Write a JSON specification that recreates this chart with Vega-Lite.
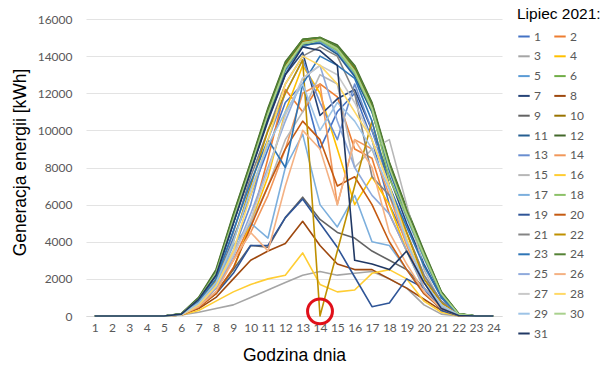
{
"$schema":"https://vega.github.io/schema/vega-lite/v6.json",
"width":416,"height":297,
"autosize":"none",
"padding":{"left":86,"top":19,"right":100,"bottom":49},
"background":"white",
"config":{"view":{"stroke":null},"font":"Liberation Sans"},
"datasets":{"gen":[
{"d":1,"h":1,"v":0},{"d":1,"h":2,"v":0},{"d":1,"h":3,"v":0},{"d":1,"h":4,"v":0},{"d":1,"h":5,"v":0},{"d":1,"h":6,"v":80},{"d":1,"h":7,"v":700},{"d":1,"h":8,"v":1900},{"d":1,"h":9,"v":4200},{"d":1,"h":10,"v":6500},{"d":1,"h":11,"v":9000},{"d":1,"h":12,"v":11500},{"d":1,"h":13,"v":12500},{"d":1,"h":14,"v":9000},{"d":1,"h":15,"v":11000},{"d":1,"h":16,"v":12000},{"d":1,"h":17,"v":9500},{"d":1,"h":18,"v":6000},{"d":1,"h":19,"v":4000},{"d":1,"h":20,"v":2000},{"d":1,"h":21,"v":800},{"d":1,"h":22,"v":80},{"d":1,"h":23,"v":0},{"d":1,"h":24,"v":0},
{"d":2,"h":1,"v":0},{"d":2,"h":2,"v":0},{"d":2,"h":3,"v":0},{"d":2,"h":4,"v":0},{"d":2,"h":5,"v":0},{"d":2,"h":6,"v":60},{"d":2,"h":7,"v":600},{"d":2,"h":8,"v":1500},{"d":2,"h":9,"v":3000},{"d":2,"h":10,"v":5000},{"d":2,"h":11,"v":8500},{"d":2,"h":12,"v":12200},{"d":2,"h":13,"v":11000},{"d":2,"h":14,"v":12500},{"d":2,"h":15,"v":11800},{"d":2,"h":16,"v":9000},{"d":2,"h":17,"v":8500},{"d":2,"h":18,"v":5500},{"d":2,"h":19,"v":3500},{"d":2,"h":20,"v":1800},{"d":2,"h":21,"v":600},{"d":2,"h":22,"v":50},{"d":2,"h":23,"v":0},{"d":2,"h":24,"v":0},
{"d":3,"h":1,"v":0},{"d":3,"h":2,"v":0},{"d":3,"h":3,"v":0},{"d":3,"h":4,"v":0},{"d":3,"h":5,"v":0},{"d":3,"h":6,"v":50},{"d":3,"h":7,"v":200},{"d":3,"h":8,"v":400},{"d":3,"h":9,"v":600},{"d":3,"h":10,"v":1000},{"d":3,"h":11,"v":1400},{"d":3,"h":12,"v":1800},{"d":3,"h":13,"v":2200},{"d":3,"h":14,"v":2400},{"d":3,"h":15,"v":2200},{"d":3,"h":16,"v":2300},{"d":3,"h":17,"v":2400},{"d":3,"h":18,"v":2000},{"d":3,"h":19,"v":1500},{"d":3,"h":20,"v":600},{"d":3,"h":21,"v":100},{"d":3,"h":22,"v":0},{"d":3,"h":23,"v":0},{"d":3,"h":24,"v":0},
{"d":4,"h":1,"v":0},{"d":4,"h":2,"v":0},{"d":4,"h":3,"v":0},{"d":4,"h":4,"v":0},{"d":4,"h":5,"v":0},{"d":4,"h":6,"v":60},{"d":4,"h":7,"v":500},{"d":4,"h":8,"v":1200},{"d":4,"h":9,"v":2500},{"d":4,"h":10,"v":5000},{"d":4,"h":11,"v":7500},{"d":4,"h":12,"v":11000},{"d":4,"h":13,"v":13500},{"d":4,"h":14,"v":12000},{"d":4,"h":15,"v":9000},{"d":4,"h":16,"v":6000},{"d":4,"h":17,"v":7500},{"d":4,"h":18,"v":6000},{"d":4,"h":19,"v":3500},{"d":4,"h":20,"v":1500},{"d":4,"h":21,"v":500},{"d":4,"h":22,"v":50},{"d":4,"h":23,"v":0},{"d":4,"h":24,"v":0},
{"d":5,"h":1,"v":0},{"d":5,"h":2,"v":0},{"d":5,"h":3,"v":0},{"d":5,"h":4,"v":0},{"d":5,"h":5,"v":0},{"d":5,"h":6,"v":90},{"d":5,"h":7,"v":850},{"d":5,"h":8,"v":2200},{"d":5,"h":9,"v":5000},{"d":5,"h":10,"v":7800},{"d":5,"h":11,"v":10700},{"d":5,"h":12,"v":13200},{"d":5,"h":13,"v":14500},{"d":5,"h":14,"v":14800},{"d":5,"h":15,"v":14200},{"d":5,"h":16,"v":13000},{"d":5,"h":17,"v":11000},{"d":5,"h":18,"v":7800},{"d":5,"h":19,"v":5300},{"d":5,"h":20,"v":3100},{"d":5,"h":21,"v":1100},{"d":5,"h":22,"v":100},{"d":5,"h":23,"v":0},{"d":5,"h":24,"v":0},
{"d":6,"h":1,"v":0},{"d":6,"h":2,"v":0},{"d":6,"h":3,"v":0},{"d":6,"h":4,"v":0},{"d":6,"h":5,"v":0},{"d":6,"h":6,"v":120},{"d":6,"h":7,"v":950},{"d":6,"h":8,"v":2400},{"d":6,"h":9,"v":5400},{"d":6,"h":10,"v":8200},{"d":6,"h":11,"v":11100},{"d":6,"h":12,"v":13600},{"d":6,"h":13,"v":14900},{"d":6,"h":14,"v":15000},{"d":6,"h":15,"v":14500},{"d":6,"h":16,"v":13400},{"d":6,"h":17,"v":11400},{"d":6,"h":18,"v":8200},{"d":6,"h":19,"v":5700},{"d":6,"h":20,"v":3400},{"d":6,"h":21,"v":1300},{"d":6,"h":22,"v":120},{"d":6,"h":23,"v":0},{"d":6,"h":24,"v":0},
{"d":7,"h":1,"v":0},{"d":7,"h":2,"v":0},{"d":7,"h":3,"v":0},{"d":7,"h":4,"v":0},{"d":7,"h":5,"v":0},{"d":7,"h":6,"v":100},{"d":7,"h":7,"v":900},{"d":7,"h":8,"v":2200},{"d":7,"h":9,"v":5000},{"d":7,"h":10,"v":7800},{"d":7,"h":11,"v":10500},{"d":7,"h":12,"v":13000},{"d":7,"h":13,"v":14200},{"d":7,"h":14,"v":10800},{"d":7,"h":15,"v":11700},{"d":7,"h":16,"v":12200},{"d":7,"h":17,"v":10000},{"d":7,"h":18,"v":7500},{"d":7,"h":19,"v":5000},{"d":7,"h":20,"v":2800},{"d":7,"h":21,"v":1000},{"d":7,"h":22,"v":100},{"d":7,"h":23,"v":0},{"d":7,"h":24,"v":0},
{"d":8,"h":1,"v":0},{"d":8,"h":2,"v":0},{"d":8,"h":3,"v":0},{"d":8,"h":4,"v":0},{"d":8,"h":5,"v":0},{"d":8,"h":6,"v":50},{"d":8,"h":7,"v":400},{"d":8,"h":8,"v":1000},{"d":8,"h":9,"v":2000},{"d":8,"h":10,"v":3000},{"d":8,"h":11,"v":3500},{"d":8,"h":12,"v":3900},{"d":8,"h":13,"v":5100},{"d":8,"h":14,"v":3800},{"d":8,"h":15,"v":2800},{"d":8,"h":16,"v":2500},{"d":8,"h":17,"v":2500},{"d":8,"h":18,"v":2000},{"d":8,"h":19,"v":1500},{"d":8,"h":20,"v":900},{"d":8,"h":21,"v":300},{"d":8,"h":22,"v":30},{"d":8,"h":23,"v":0},{"d":8,"h":24,"v":0},
{"d":9,"h":1,"v":0},{"d":9,"h":2,"v":0},{"d":9,"h":3,"v":0},{"d":9,"h":4,"v":0},{"d":9,"h":5,"v":0},{"d":9,"h":6,"v":60},{"d":9,"h":7,"v":500},{"d":9,"h":8,"v":1300},{"d":9,"h":9,"v":2500},{"d":9,"h":10,"v":3800},{"d":9,"h":11,"v":3700},{"d":9,"h":12,"v":5300},{"d":9,"h":13,"v":6400},{"d":9,"h":14,"v":5200},{"d":9,"h":15,"v":4500},{"d":9,"h":16,"v":4200},{"d":9,"h":17,"v":3500},{"d":9,"h":18,"v":3000},{"d":9,"h":19,"v":2500},{"d":9,"h":20,"v":1500},{"d":9,"h":21,"v":500},{"d":9,"h":22,"v":50},{"d":9,"h":23,"v":0},{"d":9,"h":24,"v":0},
{"d":10,"h":1,"v":0},{"d":10,"h":2,"v":0},{"d":10,"h":3,"v":0},{"d":10,"h":4,"v":0},{"d":10,"h":5,"v":0},{"d":10,"h":6,"v":110},{"d":10,"h":7,"v":920},{"d":10,"h":8,"v":2350},{"d":10,"h":9,"v":5300},{"d":10,"h":10,"v":8100},{"d":10,"h":11,"v":11000},{"d":10,"h":12,"v":13500},{"d":10,"h":13,"v":14800},{"d":10,"h":14,"v":14900},{"d":10,"h":15,"v":14400},{"d":10,"h":16,"v":13300},{"d":10,"h":17,"v":11300},{"d":10,"h":18,"v":8100},{"d":10,"h":19,"v":5600},{"d":10,"h":20,"v":3300},{"d":10,"h":21,"v":1200},{"d":10,"h":22,"v":110},{"d":10,"h":23,"v":0},{"d":10,"h":24,"v":0},
{"d":11,"h":1,"v":0},{"d":11,"h":2,"v":0},{"d":11,"h":3,"v":0},{"d":11,"h":4,"v":0},{"d":11,"h":5,"v":0},{"d":11,"h":6,"v":100},{"d":11,"h":7,"v":900},{"d":11,"h":8,"v":2300},{"d":11,"h":9,"v":5100},{"d":11,"h":10,"v":7900},{"d":11,"h":11,"v":10800},{"d":11,"h":12,"v":13300},{"d":11,"h":13,"v":14600},{"d":11,"h":14,"v":14700},{"d":11,"h":15,"v":14100},{"d":11,"h":16,"v":12900},{"d":11,"h":17,"v":11000},{"d":11,"h":18,"v":7900},{"d":11,"h":19,"v":5400},{"d":11,"h":20,"v":3200},{"d":11,"h":21,"v":1150},{"d":11,"h":22,"v":100},{"d":11,"h":23,"v":0},{"d":11,"h":24,"v":0},
{"d":12,"h":1,"v":0},{"d":12,"h":2,"v":0},{"d":12,"h":3,"v":0},{"d":12,"h":4,"v":0},{"d":12,"h":5,"v":0},{"d":12,"h":6,"v":130},{"d":12,"h":7,"v":1000},{"d":12,"h":8,"v":2500},{"d":12,"h":9,"v":5500},{"d":12,"h":10,"v":8300},{"d":12,"h":11,"v":11200},{"d":12,"h":12,"v":13700},{"d":12,"h":13,"v":14900},{"d":12,"h":14,"v":15000},{"d":12,"h":15,"v":14600},{"d":12,"h":16,"v":13500},{"d":12,"h":17,"v":11500},{"d":12,"h":18,"v":8300},{"d":12,"h":19,"v":5800},{"d":12,"h":20,"v":3500},{"d":12,"h":21,"v":1300},{"d":12,"h":22,"v":130},{"d":12,"h":23,"v":0},{"d":12,"h":24,"v":0},
{"d":13,"h":1,"v":0},{"d":13,"h":2,"v":0},{"d":13,"h":3,"v":0},{"d":13,"h":4,"v":0},{"d":13,"h":5,"v":0},{"d":13,"h":6,"v":70},{"d":13,"h":7,"v":700},{"d":13,"h":8,"v":1800},{"d":13,"h":9,"v":3500},{"d":13,"h":10,"v":6000},{"d":13,"h":11,"v":9500},{"d":13,"h":12,"v":12000},{"d":13,"h":13,"v":13800},{"d":13,"h":14,"v":11500},{"d":13,"h":15,"v":9500},{"d":13,"h":16,"v":12500},{"d":13,"h":17,"v":10000},{"d":13,"h":18,"v":7000},{"d":13,"h":19,"v":4500},{"d":13,"h":20,"v":2200},{"d":13,"h":21,"v":800},{"d":13,"h":22,"v":60},{"d":13,"h":23,"v":0},{"d":13,"h":24,"v":0},
{"d":14,"h":1,"v":0},{"d":14,"h":2,"v":0},{"d":14,"h":3,"v":0},{"d":14,"h":4,"v":0},{"d":14,"h":5,"v":0},{"d":14,"h":6,"v":50},{"d":14,"h":7,"v":500},{"d":14,"h":8,"v":1500},{"d":14,"h":9,"v":3000},{"d":14,"h":10,"v":4500},{"d":14,"h":11,"v":6500},{"d":14,"h":12,"v":9000},{"d":14,"h":13,"v":12000},{"d":14,"h":14,"v":12500},{"d":14,"h":15,"v":6000},{"d":14,"h":16,"v":9500},{"d":14,"h":17,"v":9000},{"d":14,"h":18,"v":6500},{"d":14,"h":19,"v":3800},{"d":14,"h":20,"v":1500},{"d":14,"h":21,"v":500},{"d":14,"h":22,"v":40},{"d":14,"h":23,"v":0},{"d":14,"h":24,"v":0},
{"d":15,"h":1,"v":0},{"d":15,"h":2,"v":0},{"d":15,"h":3,"v":0},{"d":15,"h":4,"v":0},{"d":15,"h":5,"v":0},{"d":15,"h":6,"v":60},{"d":15,"h":7,"v":600},{"d":15,"h":8,"v":1600},{"d":15,"h":9,"v":3500},{"d":15,"h":10,"v":5000},{"d":15,"h":11,"v":7000},{"d":15,"h":12,"v":9500},{"d":15,"h":13,"v":11000},{"d":15,"h":14,"v":13000},{"d":15,"h":15,"v":12500},{"d":15,"h":16,"v":8000},{"d":15,"h":17,"v":9000},{"d":15,"h":18,"v":9500},{"d":15,"h":19,"v":6000},{"d":15,"h":20,"v":2500},{"d":15,"h":21,"v":700},{"d":15,"h":22,"v":50},{"d":15,"h":23,"v":0},{"d":15,"h":24,"v":0},
{"d":16,"h":1,"v":0},{"d":16,"h":2,"v":0},{"d":16,"h":3,"v":0},{"d":16,"h":4,"v":0},{"d":16,"h":5,"v":0},{"d":16,"h":6,"v":50},{"d":16,"h":7,"v":300},{"d":16,"h":8,"v":800},{"d":16,"h":9,"v":1300},{"d":16,"h":10,"v":1700},{"d":16,"h":11,"v":2000},{"d":16,"h":12,"v":2200},{"d":16,"h":13,"v":3400},{"d":16,"h":14,"v":1700},{"d":16,"h":15,"v":1300},{"d":16,"h":16,"v":1400},{"d":16,"h":17,"v":2300},{"d":16,"h":18,"v":2500},{"d":16,"h":19,"v":2000},{"d":16,"h":20,"v":800},{"d":16,"h":21,"v":200},{"d":16,"h":22,"v":0},{"d":16,"h":23,"v":0},{"d":16,"h":24,"v":0},
{"d":17,"h":1,"v":0},{"d":17,"h":2,"v":0},{"d":17,"h":3,"v":0},{"d":17,"h":4,"v":0},{"d":17,"h":5,"v":0},{"d":17,"h":6,"v":70},{"d":17,"h":7,"v":700},{"d":17,"h":8,"v":1700},{"d":17,"h":9,"v":3800},{"d":17,"h":10,"v":5000},{"d":17,"h":11,"v":4200},{"d":17,"h":12,"v":8000},{"d":17,"h":13,"v":9800},{"d":17,"h":14,"v":6000},{"d":17,"h":15,"v":4800},{"d":17,"h":16,"v":6500},{"d":17,"h":17,"v":4000},{"d":17,"h":18,"v":3800},{"d":17,"h":19,"v":2500},{"d":17,"h":20,"v":1200},{"d":17,"h":21,"v":400},{"d":17,"h":22,"v":30},{"d":17,"h":23,"v":0},{"d":17,"h":24,"v":0},
{"d":18,"h":1,"v":0},{"d":18,"h":2,"v":0},{"d":18,"h":3,"v":0},{"d":18,"h":4,"v":0},{"d":18,"h":5,"v":0},{"d":18,"h":6,"v":100},{"d":18,"h":7,"v":880},{"d":18,"h":8,"v":2250},{"d":18,"h":9,"v":5150},{"d":18,"h":10,"v":7950},{"d":18,"h":11,"v":10850},{"d":18,"h":12,"v":13350},{"d":18,"h":13,"v":14650},{"d":18,"h":14,"v":14850},{"d":18,"h":15,"v":14300},{"d":18,"h":16,"v":13100},{"d":18,"h":17,"v":11100},{"d":18,"h":18,"v":7400},{"d":18,"h":19,"v":5400},{"d":18,"h":20,"v":3200},{"d":18,"h":21,"v":1200},{"d":18,"h":22,"v":100},{"d":18,"h":23,"v":0},{"d":18,"h":24,"v":0},
{"d":19,"h":1,"v":0},{"d":19,"h":2,"v":0},{"d":19,"h":3,"v":0},{"d":19,"h":4,"v":0},{"d":19,"h":5,"v":0},{"d":19,"h":6,"v":60},{"d":19,"h":7,"v":500},{"d":19,"h":8,"v":1200},{"d":19,"h":9,"v":2300},{"d":19,"h":10,"v":3800},{"d":19,"h":11,"v":3800},{"d":19,"h":12,"v":5300},{"d":19,"h":13,"v":6300},{"d":19,"h":14,"v":5000},{"d":19,"h":15,"v":3700},{"d":19,"h":16,"v":2100},{"d":19,"h":17,"v":500},{"d":19,"h":18,"v":700},{"d":19,"h":19,"v":2000},{"d":19,"h":20,"v":1500},{"d":19,"h":21,"v":300},{"d":19,"h":22,"v":20},{"d":19,"h":23,"v":0},{"d":19,"h":24,"v":0},
{"d":20,"h":1,"v":0},{"d":20,"h":2,"v":0},{"d":20,"h":3,"v":0},{"d":20,"h":4,"v":0},{"d":20,"h":5,"v":0},{"d":20,"h":6,"v":50},{"d":20,"h":7,"v":450},{"d":20,"h":8,"v":1200},{"d":20,"h":9,"v":2600},{"d":20,"h":10,"v":4800},{"d":20,"h":11,"v":7000},{"d":20,"h":12,"v":9000},{"d":20,"h":13,"v":10500},{"d":20,"h":14,"v":9500},{"d":20,"h":15,"v":7000},{"d":20,"h":16,"v":7500},{"d":20,"h":17,"v":6000},{"d":20,"h":18,"v":4000},{"d":20,"h":19,"v":2500},{"d":20,"h":20,"v":1200},{"d":20,"h":21,"v":400},{"d":20,"h":22,"v":30},{"d":20,"h":23,"v":0},{"d":20,"h":24,"v":0},
{"d":21,"h":1,"v":0},{"d":21,"h":2,"v":0},{"d":21,"h":3,"v":0},{"d":21,"h":4,"v":0},{"d":21,"h":5,"v":0},{"d":21,"h":6,"v":80},{"d":21,"h":7,"v":800},{"d":21,"h":8,"v":2000},{"d":21,"h":9,"v":4500},{"d":21,"h":10,"v":7500},{"d":21,"h":11,"v":10000},{"d":21,"h":12,"v":12500},{"d":21,"h":13,"v":14000},{"d":21,"h":14,"v":14500},{"d":21,"h":15,"v":14000},{"d":21,"h":16,"v":12000},{"d":21,"h":17,"v":7500},{"d":21,"h":18,"v":6500},{"d":21,"h":19,"v":4500},{"d":21,"h":20,"v":2200},{"d":21,"h":21,"v":800},{"d":21,"h":22,"v":60},{"d":21,"h":23,"v":0},{"d":21,"h":24,"v":0},
{"d":22,"h":1,"v":0},{"d":22,"h":2,"v":0},{"d":22,"h":3,"v":0},{"d":22,"h":4,"v":0},{"d":22,"h":5,"v":0},{"d":22,"h":6,"v":70},{"d":22,"h":7,"v":700},{"d":22,"h":8,"v":1900},{"d":22,"h":9,"v":4000},{"d":22,"h":10,"v":7000},{"d":22,"h":11,"v":10000},{"d":22,"h":12,"v":12000},{"d":22,"h":13,"v":13800},{"d":22,"h":14,"v":0},{"d":22,"h":15,"v":3500},{"d":22,"h":16,"v":7000},{"d":22,"h":17,"v":10500},{"d":22,"h":18,"v":7000},{"d":22,"h":19,"v":4500},{"d":22,"h":20,"v":2000},{"d":22,"h":21,"v":700},{"d":22,"h":22,"v":50},{"d":22,"h":23,"v":0},{"d":22,"h":24,"v":0},
{"d":23,"h":1,"v":0},{"d":23,"h":2,"v":0},{"d":23,"h":3,"v":0},{"d":23,"h":4,"v":0},{"d":23,"h":5,"v":0},{"d":23,"h":6,"v":90},{"d":23,"h":7,"v":800},{"d":23,"h":8,"v":2000},{"d":23,"h":9,"v":4600},{"d":23,"h":10,"v":7200},{"d":23,"h":11,"v":9500},{"d":23,"h":12,"v":8000},{"d":23,"h":13,"v":12500},{"d":23,"h":14,"v":14000},{"d":23,"h":15,"v":13500},{"d":23,"h":16,"v":12800},{"d":23,"h":17,"v":10500},{"d":23,"h":18,"v":7000},{"d":23,"h":19,"v":4800},{"d":23,"h":20,"v":2700},{"d":23,"h":21,"v":1000},{"d":23,"h":22,"v":80},{"d":23,"h":23,"v":0},{"d":23,"h":24,"v":0},
{"d":24,"h":1,"v":0},{"d":24,"h":2,"v":0},{"d":24,"h":3,"v":0},{"d":24,"h":4,"v":0},{"d":24,"h":5,"v":0},{"d":24,"h":6,"v":120},{"d":24,"h":7,"v":960},{"d":24,"h":8,"v":2420},{"d":24,"h":9,"v":5420},{"d":24,"h":10,"v":8220},{"d":24,"h":11,"v":11120},{"d":24,"h":12,"v":13620},{"d":24,"h":13,"v":14880},{"d":24,"h":14,"v":15000},{"d":24,"h":15,"v":14520},{"d":24,"h":16,"v":13420},{"d":24,"h":17,"v":11420},{"d":24,"h":18,"v":8220},{"d":24,"h":19,"v":5720},{"d":24,"h":20,"v":3420},{"d":24,"h":21,"v":1280},{"d":24,"h":22,"v":120},{"d":24,"h":23,"v":0},{"d":24,"h":24,"v":0},
{"d":25,"h":1,"v":0},{"d":25,"h":2,"v":0},{"d":25,"h":3,"v":0},{"d":25,"h":4,"v":0},{"d":25,"h":5,"v":0},{"d":25,"h":6,"v":60},{"d":25,"h":7,"v":600},{"d":25,"h":8,"v":1500},{"d":25,"h":9,"v":3200},{"d":25,"h":10,"v":5500},{"d":25,"h":11,"v":8000},{"d":25,"h":12,"v":10500},{"d":25,"h":13,"v":12800},{"d":25,"h":14,"v":13500},{"d":25,"h":15,"v":10500},{"d":25,"h":16,"v":8000},{"d":25,"h":17,"v":6500},{"d":25,"h":18,"v":5500},{"d":25,"h":19,"v":3500},{"d":25,"h":20,"v":1500},{"d":25,"h":21,"v":500},{"d":25,"h":22,"v":40},{"d":25,"h":23,"v":0},{"d":25,"h":24,"v":0},
{"d":26,"h":1,"v":0},{"d":26,"h":2,"v":0},{"d":26,"h":3,"v":0},{"d":26,"h":4,"v":0},{"d":26,"h":5,"v":0},{"d":26,"h":6,"v":50},{"d":26,"h":7,"v":500},{"d":26,"h":8,"v":1300},{"d":26,"h":9,"v":3000},{"d":26,"h":10,"v":4500},{"d":26,"h":11,"v":3500},{"d":26,"h":12,"v":7000},{"d":26,"h":13,"v":10000},{"d":26,"h":14,"v":9000},{"d":26,"h":15,"v":6000},{"d":26,"h":16,"v":9500},{"d":26,"h":17,"v":8000},{"d":26,"h":18,"v":4500},{"d":26,"h":19,"v":2800},{"d":26,"h":20,"v":1300},{"d":26,"h":21,"v":400},{"d":26,"h":22,"v":30},{"d":26,"h":23,"v":0},{"d":26,"h":24,"v":0},
{"d":27,"h":1,"v":0},{"d":27,"h":2,"v":0},{"d":27,"h":3,"v":0},{"d":27,"h":4,"v":0},{"d":27,"h":5,"v":0},{"d":27,"h":6,"v":60},{"d":27,"h":7,"v":600},{"d":27,"h":8,"v":1600},{"d":27,"h":9,"v":3300},{"d":27,"h":10,"v":5200},{"d":27,"h":11,"v":7800},{"d":27,"h":12,"v":10800},{"d":27,"h":13,"v":12800},{"d":27,"h":14,"v":13500},{"d":27,"h":15,"v":13000},{"d":27,"h":16,"v":11500},{"d":27,"h":17,"v":9500},{"d":27,"h":18,"v":7000},{"d":27,"h":19,"v":4000},{"d":27,"h":20,"v":1800},{"d":27,"h":21,"v":600},{"d":27,"h":22,"v":50},{"d":27,"h":23,"v":0},{"d":27,"h":24,"v":0},
{"d":28,"h":1,"v":0},{"d":28,"h":2,"v":0},{"d":28,"h":3,"v":0},{"d":28,"h":4,"v":0},{"d":28,"h":5,"v":0},{"d":28,"h":6,"v":60},{"d":28,"h":7,"v":600},{"d":28,"h":8,"v":1600},{"d":28,"h":9,"v":3500},{"d":28,"h":10,"v":6500},{"d":28,"h":11,"v":9500},{"d":28,"h":12,"v":12500},{"d":28,"h":13,"v":14000},{"d":28,"h":14,"v":13500},{"d":28,"h":15,"v":12500},{"d":28,"h":16,"v":11000},{"d":28,"h":17,"v":9500},{"d":28,"h":18,"v":7000},{"d":28,"h":19,"v":4200},{"d":28,"h":20,"v":1800},{"d":28,"h":21,"v":600},{"d":28,"h":22,"v":50},{"d":28,"h":23,"v":0},{"d":28,"h":24,"v":0},
{"d":29,"h":1,"v":0},{"d":29,"h":2,"v":0},{"d":29,"h":3,"v":0},{"d":29,"h":4,"v":0},{"d":29,"h":5,"v":0},{"d":29,"h":6,"v":70},{"d":29,"h":7,"v":700},{"d":29,"h":8,"v":1800},{"d":29,"h":9,"v":4000},{"d":29,"h":10,"v":6800},{"d":29,"h":11,"v":9200},{"d":29,"h":12,"v":11000},{"d":29,"h":13,"v":12500},{"d":29,"h":14,"v":10000},{"d":29,"h":15,"v":11500},{"d":29,"h":16,"v":10500},{"d":29,"h":17,"v":9000},{"d":29,"h":18,"v":6800},{"d":29,"h":19,"v":4000},{"d":29,"h":20,"v":1800},{"d":29,"h":21,"v":600},{"d":29,"h":22,"v":50},{"d":29,"h":23,"v":0},{"d":29,"h":24,"v":0},
{"d":30,"h":1,"v":0},{"d":30,"h":2,"v":0},{"d":30,"h":3,"v":0},{"d":30,"h":4,"v":0},{"d":30,"h":5,"v":0},{"d":30,"h":6,"v":110},{"d":30,"h":7,"v":900},{"d":30,"h":8,"v":2300},{"d":30,"h":9,"v":5200},{"d":30,"h":10,"v":8000},{"d":30,"h":11,"v":10900},{"d":30,"h":12,"v":13400},{"d":30,"h":13,"v":14700},{"d":30,"h":14,"v":14900},{"d":30,"h":15,"v":14400},{"d":30,"h":16,"v":13200},{"d":30,"h":17,"v":11200},{"d":30,"h":18,"v":8000},{"d":30,"h":19,"v":5500},{"d":30,"h":20,"v":3300},{"d":30,"h":21,"v":1200},{"d":30,"h":22,"v":100},{"d":30,"h":23,"v":0},{"d":30,"h":24,"v":0},
{"d":31,"h":1,"v":0},{"d":31,"h":2,"v":0},{"d":31,"h":3,"v":0},{"d":31,"h":4,"v":0},{"d":31,"h":5,"v":0},{"d":31,"h":6,"v":100},{"d":31,"h":7,"v":900},{"d":31,"h":8,"v":2200},{"d":31,"h":9,"v":5000},{"d":31,"h":10,"v":7800},{"d":31,"h":11,"v":10600},{"d":31,"h":12,"v":13000},{"d":31,"h":13,"v":14500},{"d":31,"h":14,"v":14300},{"d":31,"h":15,"v":13500},{"d":31,"h":16,"v":3000},{"d":31,"h":17,"v":2800},{"d":31,"h":18,"v":2500},{"d":31,"h":19,"v":3500},{"d":31,"h":20,"v":1800},{"d":31,"h":21,"v":400},{"d":31,"h":22,"v":30},{"d":31,"h":23,"v":0},{"d":31,"h":24,"v":0}
],"mark":[{"h":14,"v":250}]},
"encoding":{
"x":{"field":"h","type":"ordinal","scale":{"type":"point","padding":0.5},
"axis":{"title":"Godzina dnia","labelAngle":0,"labelColor":"#595959","labelFont":"Lato","labelFontSize":12,"ticks":false,"grid":false,"domainColor":"#D9D9D9","titleFontSize":17.5,"titleFontWeight":"normal","titleColor":"#000000","labelPadding":6,"titlePadding":13}},
"y":{"field":"v","type":"quantitative","scale":{"domain":[0,16000],"nice":false},
"axis":{"values":[0,2000,4000,6000,8000,10000,12000,14000,16000],"format":"d","title":"Generacja energii [kWh]","domain":false,"ticks":false,"gridColor":"#E3E3E3","labelColor":"#595959","labelFont":"Lato","labelFontSize":12,"labelPadding":14,"titleFontSize":17.5,"titleFontWeight":"normal","titleColor":"#000000","titleX":-66,"titleY":143,"titleBaseline":"middle"}}
},
"layer":[
{"data":{"name":"gen"},
"mark":{"type":"line","strokeWidth":1.6,"strokeJoin":"round"},
"encoding":{
"color":{"field":"d","type":"ordinal",
"scale":{"domain":[1,2,3,4,5,6,7,8,9,10,11,12,13,14,15,16,17,18,19,20,21,22,23,24,25,26,27,28,29,30,31],
"range":["#4472C4","#ED7D31","#A5A5A5","#FFC000","#5B9BD5","#70AD47","#264478","#9E480E","#636363","#997300","#255E91","#43682B","#698ED0","#F1975A","#B7B7B7","#FFCD33","#7CAFDD","#8CC168","#2F5597","#C55A11","#848484","#BF9000","#2E75B6","#548235","#8FAADC","#F4B183","#C9C9C9","#FFD966","#9DC3E6","#A9D18E","#203864"]},
"legend":{"title":"Lipiec 2021:","orient":"none","legendX":431,"legendY":-12,"direction":"horizontal","columns":2,"columnPadding":2,"rowPadding":6.8,"symbolLimit":0,"symbolType":"stroke","symbolSize":130,"symbolStrokeWidth":2,"labelFont":"Lato","labelFontSize":12,"labelColor":"#595959","labelLimit":40,"titleFontSize":15.5,"titleFontWeight":"normal","titleColor":"#000000","titlePadding":7,"titleLimit":120,"labelOffset":3}}
}},
{"data":{"name":"mark"},
"mark":{"type":"point","shape":"circle","filled":false,"stroke":"#E0101A","strokeWidth":3,"size":620,"opacity":1}}
]
}
